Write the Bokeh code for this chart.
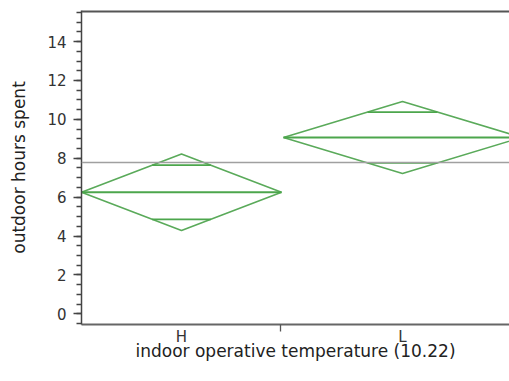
import math
from bokeh.plotting import figure
from bokeh.models import (Range1d, FixedTicker, SingleIntervalTicker, Span)
from bokeh.embed import file_html
from bokeh.resources import INLINE

# ---- data ----
groups = ["H", "L"]
group_start = [0, 202]          # x extent of each group (proportional to sample size)
group_end = [200, 440]
means = [6.25, 9.07]            # group means (outdoor hours spent)
ci_half = [1.97, 1.85]          # 95% CI half-widths
grand_mean = 7.78
group_boundary = [199]

x_label = "indoor operative temperature (10.22)"
y_label = "outdoor hours spent"

FONT = "DejaVu Sans"
DIAMOND = "#5aaa5a"
MEANLINE = "#4ca64c"

Y_LO, Y_HI = -0.55, 15.6

p = figure(width=509, height=372, output_backend="svg",
           toolbar_location=None, x_range=Range1d(0, 428), y_range=Range1d(Y_LO, Y_HI),
           min_border_left=81, min_border_right=0, min_border_top=10, min_border_bottom=48)
p.grid.visible = False
p.outline_line_color = None
p.background_fill_color = "white"
p.border_fill_color = "white"

centers = [(a + b) / 2 for a, b in zip(group_start, group_end)]

# diamonds
xs, ys = [], []
for x0, x1, xc, m, h in zip(group_start, group_end, centers, means, ci_half):
    xs.append([x0, xc, x1, xc])
    ys.append([m, m + h, m, m - h])
p.patches(xs, ys, fill_color=None, line_color=DIAMOND, line_width=1.6)

# mean lines
p.segment(x0=group_start, y0=means, x1=group_end, y1=means,
          line_color=MEANLINE, line_width=2)

# overlap marks
ox0, ox1, oy = [], [], []
for x0, x1, xc, m, h in zip(group_start, group_end, centers, means, ci_half):
    d = h / math.sqrt(2)
    hw = (x1 - x0) / 2 * (1 - 1 / math.sqrt(2))
    for yy in (m + d, m - d):
        ox0.append(xc - hw)
        ox1.append(xc + hw)
        oy.append(yy)
p.segment(x0=ox0, y0=oy, x1=ox1, y1=oy, line_color=MEANLINE, line_width=1.8)

# grand mean
p.add_layout(Span(location=grand_mean, dimension="width", line_color="#a0a0a0", line_width=1.6))
# top frame line
p.add_layout(Span(location=Y_HI, dimension="width", line_color="#555555", line_width=4))

# y axis
p.yaxis.ticker = SingleIntervalTicker(interval=2, num_minor_ticks=4)
p.yaxis.axis_label = y_label
# x axis
p.xaxis.ticker = FixedTicker(ticks=centers, minor_ticks=group_boundary)
p.xaxis.major_label_overrides = {c: g for c, g in zip(centers, groups)}
p.xaxis.axis_label = x_label

for ax in (p.xaxis[0], p.yaxis[0]):
    ax.axis_label_text_font = FONT
    ax.axis_label_text_font_size = "17px"
    ax.axis_label_text_font_style = "normal"
    ax.axis_label_text_color = "#222222"
    ax.major_label_text_font = FONT
    ax.major_label_text_font_size = "15px"
    ax.major_label_text_color = "#333333"
    ax.major_tick_in = 0
    ax.minor_tick_in = 0

p.yaxis.axis_line_color = "#444444"
p.yaxis.axis_line_width = 1.5
p.yaxis.major_tick_out = 8
p.yaxis.minor_tick_out = 5
p.yaxis.major_tick_line_color = "#444444"
p.yaxis.minor_tick_line_color = "#444444"
p.yaxis.major_tick_line_width = 1.3
p.yaxis.minor_tick_line_width = 1.3
p.yaxis.major_label_standoff = 7
p.yaxis.axis_label_standoff = 15

p.xaxis.axis_line_color = "#666666"
p.xaxis.axis_line_width = 2
p.xaxis.major_tick_out = 0
p.xaxis.minor_tick_out = 7
p.xaxis.minor_tick_line_color = "#555555"
p.xaxis.minor_tick_line_width = 1.3
p.xaxis.major_label_standoff = -4
p.xaxis.axis_label_standoff = -8

open("out.html", "w").write(file_html(p, INLINE))
